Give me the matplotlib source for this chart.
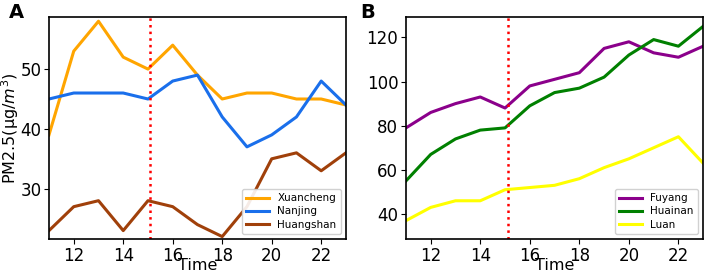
import matplotlib
matplotlib.use("Agg")
import matplotlib.pyplot as plt

hours = [11, 12, 13, 14, 15, 16, 17, 18, 19, 20, 21, 22, 23]
xuancheng = [39, 53, 58, 52, 50, 54, 49, 45, 46, 46, 45, 45, 44]
nanjing = [45, 46, 46, 46, 45, 48, 49, 42, 37, 39, 42, 48, 44]
huangshan = [23, 27, 28, 23, 28, 27, 24, 22, 27, 35, 36, 33, 36]
fuyang = [79, 86, 90, 93, 88, 98, 101, 104, 115, 118, 113, 111, 116]
huainan = [55, 67, 74, 78, 79, 89, 95, 97, 102, 112, 119, 116, 125]
luan = [37, 43, 46, 46, 51, 52, 53, 56, 61, 65, 70, 75, 63]
event_time = 15.1
xticks = [12, 14, 16, 18, 20, 22]

fig = plt.figure(figsize=(7.06, 2.75), dpi=100)
axA = fig.add_axes([0.0694, 0.131, 0.4206, 0.807])
axB = fig.add_axes([0.575, 0.131, 0.421, 0.807])

lw = 2.2
axA.plot(hours, xuancheng, color="#FFA500", lw=lw, label="Xuancheng")
axA.plot(hours, nanjing, color="#1A6FEB", lw=lw, label="Nanjing")
axA.plot(hours, huangshan, color="#A0400A", lw=lw, label="Huangshan")
axA.axvline(event_time, color="red", ls=":", lw=1.8)
axA.set_xlim(11, 23)
axA.set_ylim(21.6, 58.7)
axA.set_yticks([30, 40, 50])
axA.set_ylabel("PM2.5(μg/$m^3$)", fontsize=11.5)
axA.yaxis.set_label_coords(-0.093, 0.5)

axB.plot(hours, fuyang, color="#8B008B", lw=lw, label="Fuyang")
axB.plot(hours, huainan, color="#008000", lw=lw, label="Huainan")
axB.plot(hours, luan, color="#FFFF00", lw=lw, label="Luan")
axB.axvline(event_time, color="red", ls=":", lw=1.8)
axB.set_xlim(11, 23)
axB.set_ylim(28.7, 129.2)
axB.set_yticks([40, 60, 80, 100, 120])

for ax in (axA, axB):
    ax.set_xticks(xticks)
    ax.tick_params(labelsize=12, length=3.5, pad=2)
    ax.set_xlabel("Time", fontsize=11.5, labelpad=-5)
    for s in ax.spines.values():
        s.set_linewidth(1.2)
    ax.legend(loc="lower right", fontsize=7.5, handlelength=2.2, borderpad=0.4,
              labelspacing=0.3, framealpha=0.9)

fig.text(0.012, 0.935, "A", fontsize=14, fontweight="bold")
fig.text(0.51, 0.935, "B", fontsize=14, fontweight="bold")

fig.savefig("out.png", dpi=100)
